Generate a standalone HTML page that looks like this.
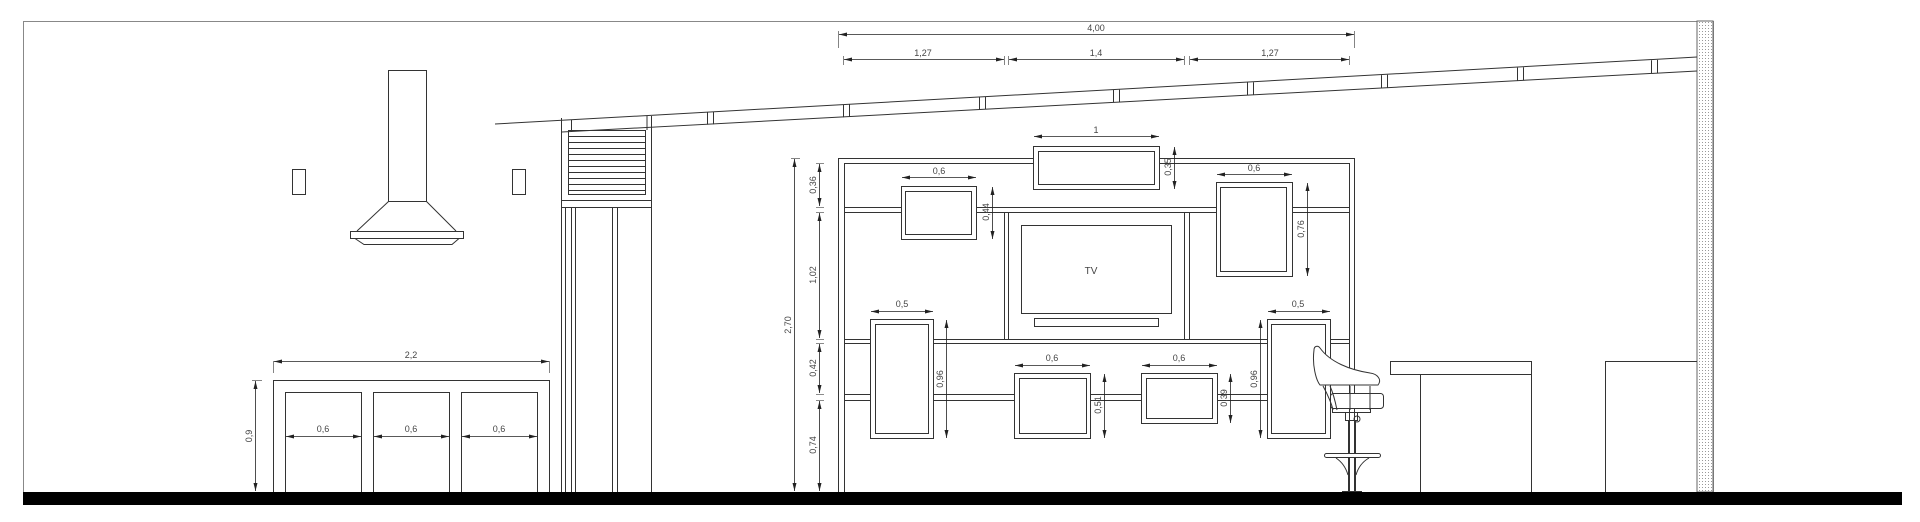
<!DOCTYPE html>
<html><head><meta charset="utf-8"><style>
html,body{margin:0;padding:0;background:#fff;width:1920px;height:522px;overflow:hidden}
svg{display:block}
text{font-family:"Liberation Sans",sans-serif;font-size:9px;fill:#444}
</style></head><body>
<svg width="1920" height="522" viewBox="0 0 1920 522" xmlns="http://www.w3.org/2000/svg">
<defs>
<marker id="a" viewBox="0 0 8 4" refX="8" refY="2" markerWidth="8" markerHeight="4" orient="auto-start-reverse" markerUnits="userSpaceOnUse"><path d="M0,0L8,2L0,4z" fill="#222"/></marker>
<pattern id="dots" width="3" height="3" patternUnits="userSpaceOnUse"><rect width="3" height="3" fill="#fff"/><rect x="1" y="1" width="1" height="1" fill="#999"/></pattern>
</defs>
<g fill="none" stroke="#333" stroke-width="1">
<path d="M23.5,492V21.5H1713.5V492" stroke="#888"/>
<rect x="1697" y="21" width="16" height="471" fill="url(#dots)" stroke="#666"/>
<path d="M495,124 L1697,57"/>
<path d="M562,132 L1697,71"/>
<g>
<path d="M707.5,112.3V124.6M713.5,112V124.3"/>
<path d="M843.5,104.8V117.3M849.5,104.5V117"/>
<path d="M979.5,97.3V109.6M985.5,97V109.3"/>
<path d="M1113.5,89.9V102.4M1119.5,89.6V102.1"/>
<path d="M1247.5,82.5V95.2M1253.5,82.2V94.9"/>
<path d="M1381.5,75.1V88M1387.5,74.8V87.7"/>
<path d="M1517.5,67.6V80.7M1523.5,67.3V80.4"/>
<path d="M1651.5,60.2V73.5M1657.5,59.9V73.2"/>
</g>
<rect x="388.5" y="70.5" width="38" height="131"/>
<path d="M388.5,201.5L357,231M426.5,201.5L456,231"/>
<rect x="350.5" y="231.5" width="113" height="7"/>
<path d="M355,238.5L364,244.5H452L459,238.5"/>
<rect x="292.5" y="169.5" width="13" height="25"/>
<rect x="512.5" y="169.5" width="13" height="25"/>
<path d="M561.5,118V492M651.5,116V492"/>
<path d="M571.5,120V132M647,116V130"/>
<rect x="568.5" y="130.5" width="77" height="64"/>
<path d="M568,136.5H645M568,142.5H645M568,148.5H645M568,154.5H645M568,160.5H645M568,166.5H645M568,172.5H645M568,178.5H645M568,184.5H645M568,190.5H645"/>
<path d="M561,200.5H651M561,207.5H651"/>
<path d="M565.5,207V492M571.5,207V492M575.5,207V492M612.5,207V492M617.5,207V492"/>
<path d="M273.5,492V380.5H549.5V492"/>
<path d="M285.5,492V392.5H361.5V492M373.5,492V392.5H449.5V492M461.5,492V392.5H537.5V492"/>
<path d="M838.5,492V158.5H1354.5V492"/>
<path d="M844.5,492V163.5H1349.5V492"/>
<path d="M844,207.5H1349M844,212.5H1349"/>
<path d="M844,339.5H1349M844,343.5H1349"/>
<path d="M844,394.5H1349M844,400.5H1349"/>
<path d="M1004.5,212V339M1008.5,212V339M1184.5,212V339M1189.5,212V339"/>
<rect x="1021.5" y="225.5" width="150" height="88"/>
<rect x="1034.5" y="318.5" width="124" height="8"/>
<rect x="1033.5" y="146.5" width="126" height="43" fill="#fff"/>
<rect x="1038.5" y="151.5" width="116" height="33"/>
<rect x="901.5" y="186.5" width="75" height="53" fill="#fff"/>
<rect x="905.5" y="191.5" width="66" height="43"/>
<rect x="1216.5" y="182.5" width="76" height="94" fill="#fff"/>
<rect x="1220.5" y="187.5" width="66" height="84"/>
<rect x="870.5" y="319.5" width="63" height="119" fill="#fff"/>
<rect x="875.5" y="324.5" width="53" height="109"/>
<rect x="1014.5" y="373.5" width="76" height="65" fill="#fff"/>
<rect x="1019.5" y="378.5" width="67" height="55"/>
<rect x="1141.5" y="373.5" width="76" height="50" fill="#fff"/>
<rect x="1146.5" y="378.5" width="66" height="40"/>
<rect x="1267.5" y="319.5" width="63" height="119" fill="#fff"/>
<rect x="1271.5" y="324.5" width="54" height="109"/>
<rect x="1390.5" y="361.5" width="141" height="13"/>
<path d="M1420.5,374.5V492M1531.5,374.5V492"/>
<path d="M1605.5,492V361.5H1697"/>
<path d="M1314,350 C1312,365 1316,380 1320,385 L1378,385 C1382,380 1378,374 1370,373 C1350,370 1330,362 1320,348 C1318,345 1314,346 1314,350Z" fill="#fff"/>
<rect x="1330.5" y="393.5" width="53" height="15" rx="3" fill="#fff"/>
<path d="M1323,386 C1328,395 1332,405 1333,410M1330,386 C1334,395 1336,405 1337,410M1350,386V410M1370,386V410"/>
<rect x="1332.5" y="408.5" width="38" height="4"/>
<rect x="1345.5" y="412.5" width="12" height="8"/>
<circle cx="1357" cy="419" r="3"/>
<path d="M1348.5,420V492M1355.5,420V492"/>
<rect x="1324.5" y="453.5" width="56" height="4" rx="2" fill="#fff"/>
<path d="M1336,458 C1342,462 1346,468 1348,475M1369,458 C1362,462 1358,468 1356,475"/>
<path d="M1342,491.5H1362"/>
<g stroke="#222" stroke-width="0.8">
<path d="M273.5,361V373M549.5,361V373" stroke="#666"/>
<path d="M274,361.5H549" marker-start="url(#a)" marker-end="url(#a)"/>
<path d="M255.5,381V491" marker-start="url(#a)" marker-end="url(#a)"/>
<path d="M252,380.5H262" stroke="#666"/>
<path d="M286,436.5H361" marker-start="url(#a)" marker-end="url(#a)"/>
<path d="M374,436.5H449" marker-start="url(#a)" marker-end="url(#a)"/>
<path d="M462,436.5H537" marker-start="url(#a)" marker-end="url(#a)"/>
<path d="M838.5,31V48M1354.5,31V48M843.5,56V65M1004.5,56V65M1008.5,56V65M1184.5,56V65M1189.5,56V65M1349.5,56V65" stroke="#666"/>
<path d="M839,34.5H1354" marker-start="url(#a)" marker-end="url(#a)"/>
<path d="M844,59.5H1004" marker-start="url(#a)" marker-end="url(#a)"/>
<path d="M1009,59.5H1184" marker-start="url(#a)" marker-end="url(#a)"/>
<path d="M1190,59.5H1349" marker-start="url(#a)" marker-end="url(#a)"/>
<path d="M794.5,159V491" marker-start="url(#a)" marker-end="url(#a)"/>
<path d="M791,158.5H800" stroke="#666"/>
<path d="M819.5,164V206" marker-start="url(#a)" marker-end="url(#a)"/>
<path d="M819.5,213V338" marker-start="url(#a)" marker-end="url(#a)"/>
<path d="M819.5,344V393" marker-start="url(#a)" marker-end="url(#a)"/>
<path d="M819.5,401V491" marker-start="url(#a)" marker-end="url(#a)"/>
<path d="M816,163.5H824M816,207.5H824M816,212.5H824M816,339.5H824M816,343.5H824M816,394.5H824M816,400.5H824" stroke="#666"/>
<path d="M1034,136.5H1159" marker-start="url(#a)" marker-end="url(#a)"/>
<path d="M1174.5,147V189" marker-start="url(#a)" marker-end="url(#a)"/>
<path d="M902,177.5H976" marker-start="url(#a)" marker-end="url(#a)"/>
<path d="M992.5,187V239" marker-start="url(#a)" marker-end="url(#a)"/>
<path d="M1217,174.5H1292" marker-start="url(#a)" marker-end="url(#a)"/>
<path d="M1307.5,183V276" marker-start="url(#a)" marker-end="url(#a)"/>
<path d="M871,311.5H933" marker-start="url(#a)" marker-end="url(#a)"/>
<path d="M946.5,320V438" marker-start="url(#a)" marker-end="url(#a)"/>
<path d="M1015,365.5H1090" marker-start="url(#a)" marker-end="url(#a)"/>
<path d="M1104.5,374V438" marker-start="url(#a)" marker-end="url(#a)"/>
<path d="M1142,365.5H1217" marker-start="url(#a)" marker-end="url(#a)"/>
<path d="M1230.5,374V423" marker-start="url(#a)" marker-end="url(#a)"/>
<path d="M1268,311.5H1330" marker-start="url(#a)" marker-end="url(#a)"/>
<path d="M1260.5,320V438" marker-start="url(#a)" marker-end="url(#a)"/>
</g>
</g>
<rect x="23" y="492" width="1879" height="13" fill="#000"/>
<g text-anchor="middle">
<text x="411" y="358">2,2</text>
<text x="323" y="432">0,6</text>
<text x="411" y="432">0,6</text>
<text x="499" y="432">0,6</text>
<text transform="translate(252,436) rotate(-90)">0,9</text>
<text x="1096" y="31">4,00</text>
<text x="923" y="56">1,27</text>
<text x="1096" y="56">1,4</text>
<text x="1270" y="56">1,27</text>
<text x="1096" y="133">1</text>
<text x="939" y="174">0,6</text>
<text x="1254" y="171">0,6</text>
<text x="902" y="307">0,5</text>
<text x="1052" y="361">0,6</text>
<text x="1179" y="361">0,6</text>
<text x="1298" y="307">0,5</text>
<text x="1091" y="274" style="font-size:10px">TV</text>
<text transform="translate(791,325) rotate(-90)">2,70</text>
<text transform="translate(816,185) rotate(-90)">0,36</text>
<text transform="translate(816,275) rotate(-90)">1,02</text>
<text transform="translate(816,368) rotate(-90)">0,42</text>
<text transform="translate(816,445) rotate(-90)">0,74</text>
<text transform="translate(1171,167) rotate(-90)">0,35</text>
<text transform="translate(989,212) rotate(-90)">0,44</text>
<text transform="translate(1304,229) rotate(-90)">0,76</text>
<text transform="translate(943,379) rotate(-90)">0,96</text>
<text transform="translate(1101,405) rotate(-90)">0,51</text>
<text transform="translate(1227,398) rotate(-90)">0,39</text>
<text transform="translate(1257,379) rotate(-90)">0,96</text>
</g>
</svg>
</body></html>
